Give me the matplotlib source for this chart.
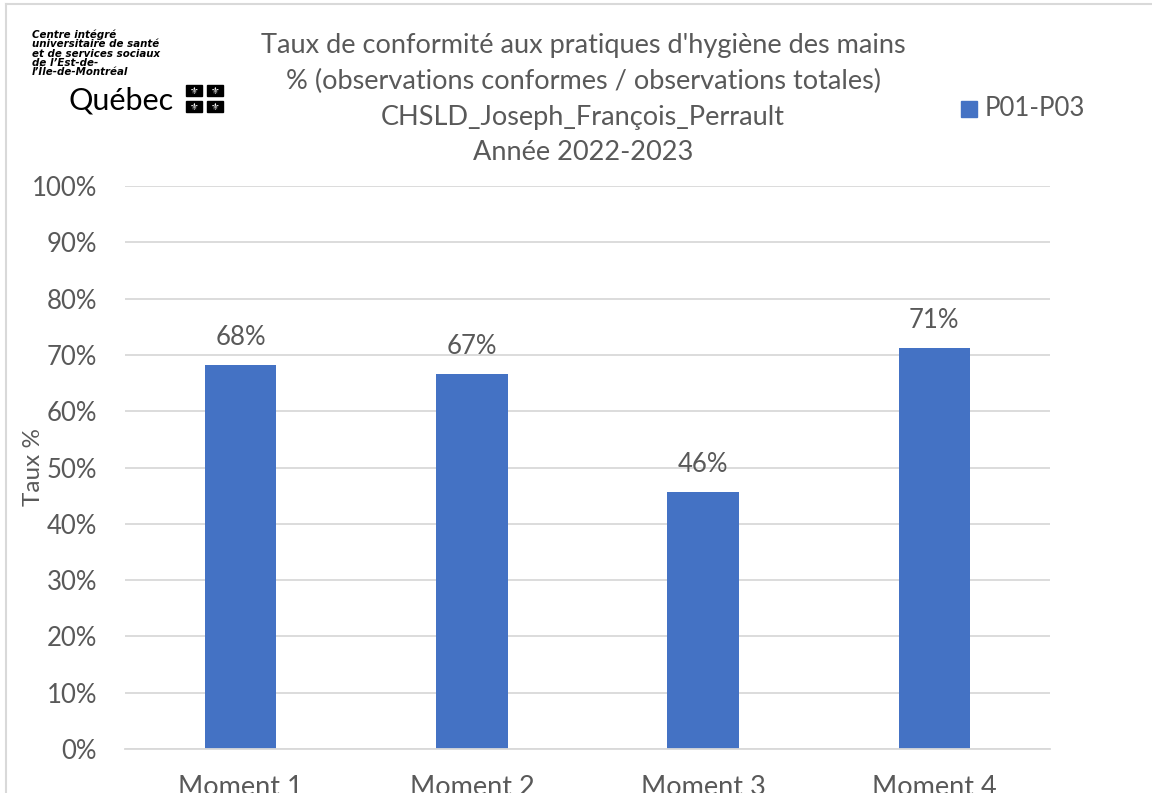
import matplotlib
matplotlib.use("Agg")
import matplotlib.pyplot as plt
from matplotlib.patches import Rectangle

plt.rcParams['font.family'] = ['Lato', 'DejaVu Sans']

categories = ["Moment 1", "Moment 2", "Moment 3", "Moment 4"]
values = [0.682, 0.666, 0.456, 0.712]
value_labels = ["68%", "67%", "46%", "71%"]
series_name = "P01-P03"
title_lines = [
    "Taux de conformité aux pratiques d'hygiène des mains",
    "% (observations conformes / observations totales)",
    "CHSLD_Joseph_François_Perrault",
    "Année 2022-2023",
]
logo_lines = [
    "Centre intégré",
    "universitaire de santé",
    "et de services sociaux",
    "de l\u2019Est-de-",
    "l\u2019Île-de-Montréal",
]

bar_color = "#4472C4"
text_color = "#595959"
grid_color = "#d9d9d9"

W, H = 1152, 793
fig = plt.figure(figsize=(W / 100, H / 100), dpi=100)

# outer chart border (top and left visible)
fig.add_artist(plt.Line2D([6 / W, 1], [1 - 4 / H, 1 - 4 / H], color=grid_color, lw=1.5))
fig.add_artist(plt.Line2D([6 / W, 6 / W], [0, 1 - 4 / H], color=grid_color, lw=1.5))

ax = fig.add_axes([125 / W, 1 - 749 / H, 925 / W, (749 - 186) / H])
x = range(len(categories))
bars = ax.bar(x, values, width=0.31, color=bar_color, label=series_name, zorder=3)

ax.set_ylim(0, 1)
ax.set_xlim(-0.5, len(categories) - 0.5)
ax.set_yticks([i / 10 for i in range(11)])
ax.set_yticklabels([f"{i * 10}%" for i in range(11)])
ax.set_xticks(list(x))
ax.set_xticklabels(categories)
ax.tick_params(axis="y", length=0, pad=20, labelsize=18.5, labelcolor=text_color)
ax.tick_params(axis="x", length=0, pad=19, labelsize=19.5, labelcolor=text_color)
ax.yaxis.grid(True, color=grid_color, lw=1.3, zorder=0)
for s in ["top", "right", "left"]:
    ax.spines[s].set_visible(False)
ax.spines["bottom"].set_color(grid_color)
ax.spines["bottom"].set_linewidth(1.3)
ax.spines["bottom"].set_zorder(4)

for b, lab in zip(bars, value_labels):
    ax.annotate(lab, (b.get_x() + b.get_width() / 2, b.get_height()),
                xytext=(0, 11), textcoords="offset points",
                ha="center", va="bottom", fontsize=18.5, color=text_color)

fig.text(33 / W, 1 - 467 / H, "Taux %", rotation=90, ha="center", va="center",
         fontsize=17.5, color=text_color)

for i, line in enumerate(title_lines):
    fig.text(583 / W, 1 - (45 + i * 36) / H, line, ha="center", va="center",
             fontsize=19.5, color=text_color)

# legend
fig.add_artist(Rectangle((961 / W, 1 - 117 / H), 16 / W, 16 / H,
                         transform=fig.transFigure, color=bar_color))
fig.text(985 / W, 1 - 109 / H, series_name, ha="left", va="center",
         fontsize=18.5, color=text_color)

# logo
for i, line in enumerate(logo_lines):
    fig.text(32 / W, 1 - (35 + i * 9.3) / H, line, ha="left", va="center",
             fontsize=7.4, fontweight="bold", fontstyle="italic", color="black",
             family=["DejaVu Sans"])
fig.text(69 / W, 1 - 101 / H, "Québec", ha="left", va="center",
         fontsize=22, color="black")
for (sx, sy) in [(186, 85), (207, 85), (186, 101), (207, 101)]:
    fig.add_artist(Rectangle((sx / W, 1 - (sy + 11) / H), 16 / W, 11 / H,
                             transform=fig.transFigure, color="black"))
    fig.text((sx + 8) / W, 1 - (sy + 5.5) / H, "\u269c", ha="center", va="center",
             fontsize=7, color="white", family=["DejaVu Sans"])

fig.savefig("out.png", dpi=100)
